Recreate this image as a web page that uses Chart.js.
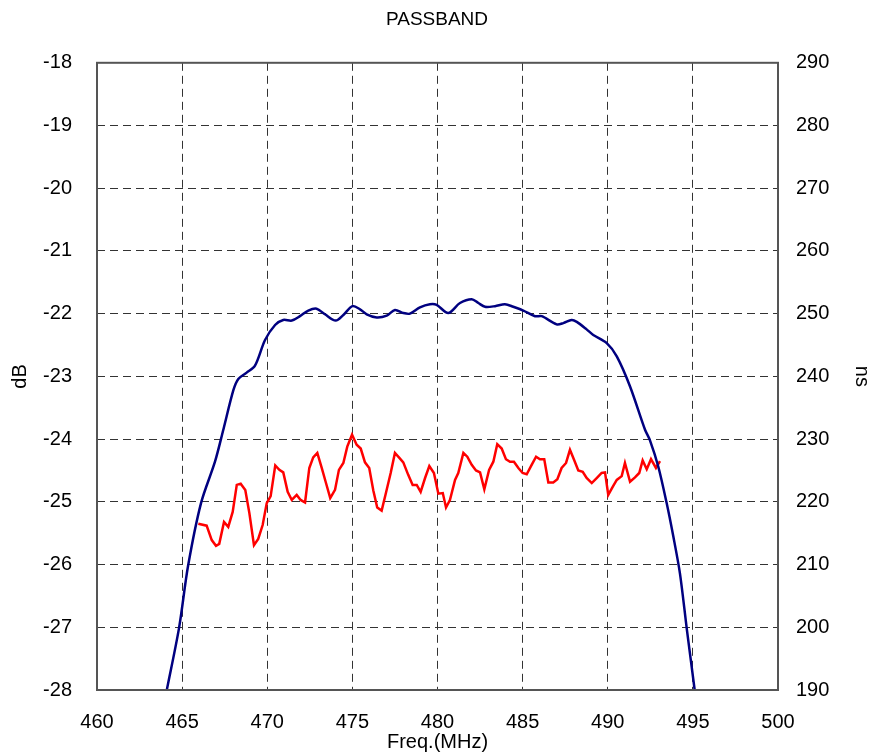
<!DOCTYPE html>
<html>
<head>
<meta charset="utf-8">
<script src="https://cdn.jsdelivr.net/npm/chart.js@4"></script>
<style>
  body{margin:0;background:#fff;}
</style>
</head>
<body>
<canvas id="myChart" width="874" height="756"></canvas>
<script>
// Passband insertion loss (dB, left axis)
let lossFreq=[464.1,464.82,465.35,466.11,466.93,467.42,468.01,468.30,468.79,469.28,469.87,470.46,470.94,471.44,471.92,472.41,472.90,473.39,474.02,474.47,475.00,475.45,475.84,476.43,477.02,477.50,477.99,478.38,478.97,479.56,479.95,480.63,481.32,482.01,482.40,482.79,483.38,483.96,484.45,485.04,485.73,486.12,487.00,487.39,487.88,488.18,488.76,489.15,489.94,490.53,491.31,492.19,492.48,492.97,493.46,493.85,494.24,494.64,495.12];
let lossDb=[-28.0,-27.01,-26.02,-25.02,-24.36,-23.85,-23.22,-23.04,-22.94,-22.83,-22.42,-22.18,-22.10,-22.11,-22.04,-21.95,-21.92,-22.01,-22.11,-22.02,-21.88,-21.93,-22.01,-22.06,-22.03,-21.94,-21.99,-22.00,-21.90,-21.85,-21.86,-21.99,-21.83,-21.77,-21.83,-21.89,-21.88,-21.85,-21.89,-21.95,-22.04,-22.04,-22.17,-22.15,-22.10,-22.13,-22.25,-22.34,-22.47,-22.68,-23.16,-23.85,-24.02,-24.44,-25.02,-25.55,-26.14,-27.02,-28.03];

// Group delay (ns, right axis)
let delayFreq=[465.95,466.44,466.74,466.99,467.18,467.46,467.71,467.97,468.21,468.44,468.71,468.95,469.22,469.47,469.73,469.97,470.20,470.47,470.71,470.94,471.20,471.44,471.73,471.96,472.22,472.47,472.70,472.94,473.20,473.45,473.70,473.98,474.21,474.47,474.70,474.98,475.25,475.49,475.74,475.99,476.23,476.46,476.72,476.97,477.25,477.50,477.76,477.99,478.28,478.54,478.78,479.01,479.27,479.52,479.79,480.05,480.31,480.50,480.73,481.03,481.22,481.52,481.75,482.01,482.26,482.50,482.75,483.03,483.28,483.51,483.77,484.02,484.26,484.49,484.75,485.00,485.24,485.53,485.79,486.02,486.27,486.51,486.80,487.04,487.29,487.55,487.78,488.02,488.27,488.53,488.76,489.06,489.35,489.64,489.84,490.03,490.29,490.53,490.82,491.01,491.31,491.60,491.85,492.05,492.29,492.54,492.83,493.07];
let delayNs=[216.5,216.2,213.9,213.0,213.3,216.8,216.0,218.4,222.7,222.9,221.9,218.2,213.1,214.1,216.3,219.8,220.9,225.8,225.1,224.7,221.6,220.3,221.1,220.3,219.9,225.4,227.1,227.8,225.4,223.0,220.6,221.9,225.1,226.2,228.8,230.7,229.1,228.5,226.3,225.4,221.8,219.1,218.6,221.4,224.6,227.8,227.0,226.3,224.3,222.7,222.7,221.6,223.8,225.7,224.6,221.3,221.4,219.1,220.3,223.5,224.6,227.8,227.2,225.9,225.0,224.7,222.0,225.1,226.4,229.2,228.5,226.8,226.4,226.4,225.4,224.6,224.4,225.9,227.2,226.8,226.8,223.1,223.1,223.6,225.4,226.2,228.3,226.7,225.0,224.8,223.8,223.0,223.8,224.6,224.7,221.1,222.4,223.5,224.1,226.2,223.2,223.9,224.6,226.6,225.2,226.8,225.4,226.5];

let lossPoints=lossFreq.map((f,i)=>({x:f,y:lossDb[i]}));
let delayPoints=delayFreq.map((f,i)=>({x:f,y:delayNs[i]}));

Chart.defaults.font.family="'Liberation Sans', Arial, sans-serif";
Chart.defaults.color="#000";

// frame round the plot area
let framePlugin={
    id:'frame',
    afterDraw(chart){
        let a=chart.chartArea, c=chart.ctx;
        c.save();
        c.strokeStyle='#555';
        c.lineWidth=2;
        c.strokeRect(a.left,a.top,a.right-a.left,a.bottom-a.top);
        c.restore();
    }
};

let gridDash=[8,5];

var ctx=document.getElementById('myChart').getContext('2d');
var myChart=new Chart(ctx,{
    type:'scatter',
    data:{
        datasets:[{
            data:lossPoints,
            showLine:true,
            borderColor:'#000080',
            borderWidth:2.5,
            pointRadius:0,
            tension:0.3,
            yAxisID:'y'
        },{
            data:delayPoints,
            showLine:true,
            borderColor:'#ff0000',
            borderWidth:2.5,
            pointRadius:0,
            tension:0,
            yAxisID:'y2'
        }]
    },
    options:{
        responsive:false,
        animation:false,
        layout:{padding:0},
        plugins:{
            legend:{display:false},
            tooltip:{enabled:false},
            title:{
                display:true,
                text:'PASSBAND',
                font:{size:19,weight:'normal'},
                color:'#000',
                padding:{top:8,bottom:32}
            }
        },
        scales:{
            x:{
                type:'linear',
                min:460,max:500,
                ticks:{stepSize:5,font:{size:20},padding:20},
                grid:{color:'#333',borderDash:gridDash,drawTicks:false,lineWidth:1},
                border:{display:false,dash:gridDash},
                title:{display:true,text:'Freq.(MHz)',font:{size:20},padding:{top:0,bottom:2}},
                afterFit(scale){scale.height=66;}
            },
            y:{
                position:'left',
                min:-28,max:-18,
                ticks:{stepSize:1,font:{size:20},padding:25},
                grid:{color:'#333',drawTicks:false,lineWidth:1},
                border:{display:false,dash:gridDash},
                title:{display:true,text:'dB',font:{size:20},padding:{top:8,bottom:0}},
                afterFit(scale){scale.width=97;}
            },
            y2:{
                position:'right',
                min:190,max:290,
                ticks:{stepSize:10,font:{size:20},padding:18},
                grid:{display:false,drawTicks:false},
                border:{display:false},
                title:{display:true,text:'ns',font:{size:20},padding:{top:0,bottom:0}},
                afterFit(scale){scale.width=96;}
            }
        }
    },
    plugins:[framePlugin]
});
</script>
</body>
</html>
